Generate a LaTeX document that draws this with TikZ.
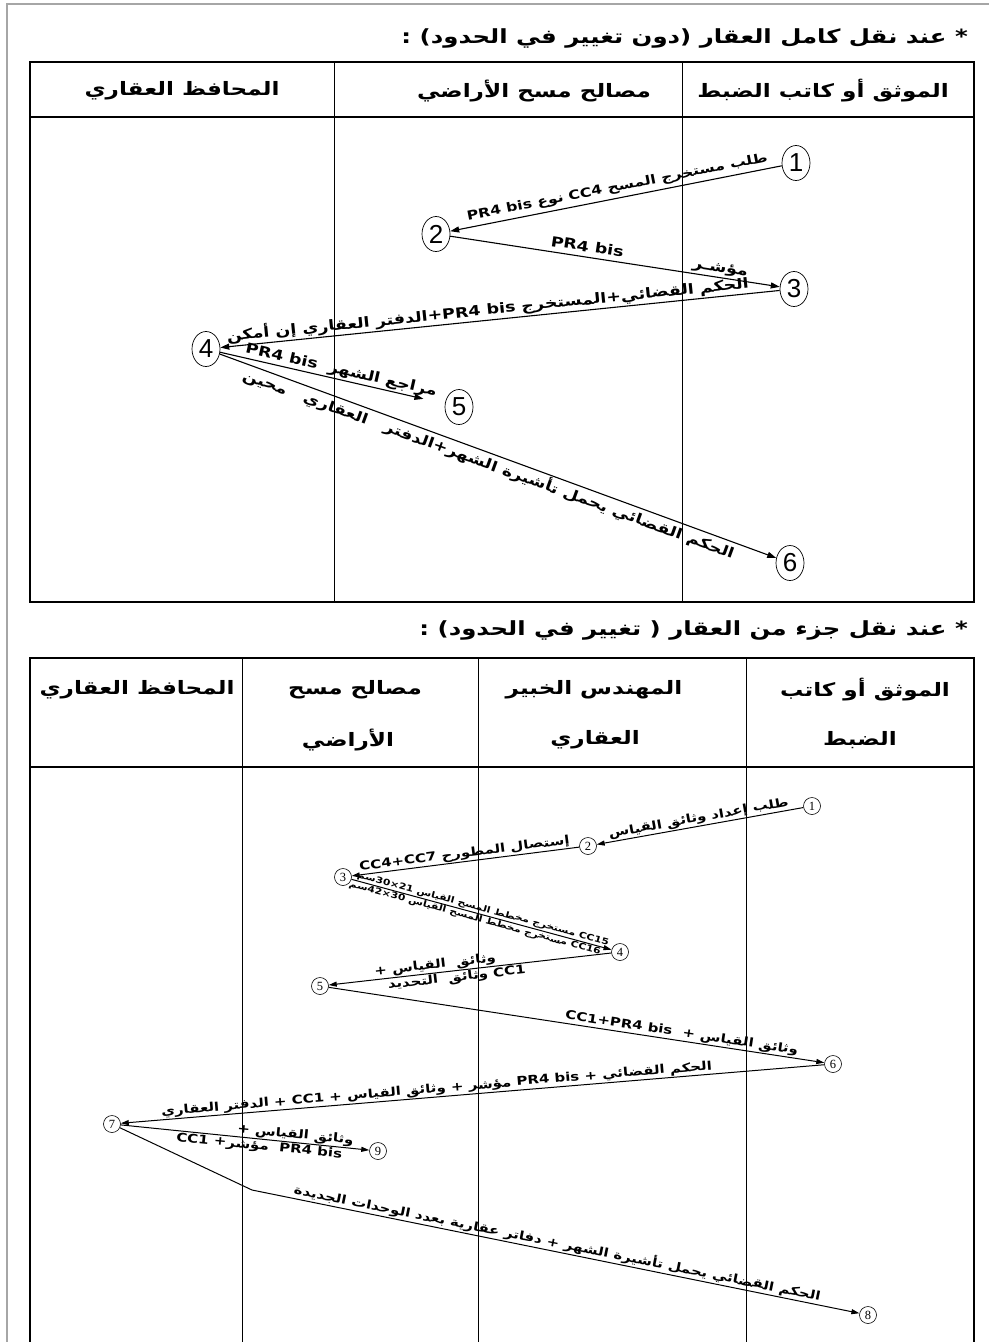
\documentclass[tikz,border=0pt]{standalone}
\usepackage{fontspec}
\usetikzlibrary{shapes.geometric,arrows.meta}
\TeXXeTstate=1
\setmainfont{Liberation Sans}
\newfontfamily\arfont[Script=Arabic,FakeStretch=1.25]{DejaVu Sans}
\newfontfamily\numfont{Liberation Serif}
\newcommand{\AR}[1]{{\arfont\bfseries\beginR #1\endR}}
\newcommand{\LR}[1]{\beginL #1\endL{}}
\tikzset{
 arr/.style={-{Triangle[length=9pt,width=6pt]}, line width=1.1pt},
 arrs/.style={-{Triangle[length=8pt,width=5pt]}, line width=1pt},
 bigc/.style={ellipse, draw, line width=0.7pt, minimum width=28pt, minimum height=35pt, inner sep=0pt, font=\fontsize{26}{26}\selectfont},
 smc/.style={circle, draw, line width=0.6pt, minimum size=17pt, inner sep=0pt, font=\numfont\fontsize{12.5}{12.5}\selectfont},
 lab/.style={font=\fontsize{14}{14}\selectfont, inner sep=1.5pt},
 labs/.style={font=\fontsize{12}{12}\selectfont, inner sep=1pt},
 labxs/.style={font=\fontsize{8.6}{8.6}\selectfont, inner sep=0.8pt},
 hdr/.style={font=\fontsize{18.5}{18.5}\selectfont, inner sep=0pt},
 ttl/.style={font=\fontsize{19.5}{19.5}\selectfont, inner sep=0pt},
 frame/.style={line width=1.6pt},
 col/.style={line width=0.8pt},
}
\begin{document}
\begin{tikzpicture}[x=1pt,y=-1pt]
\useasboundingbox (0,0) rectangle (989,1342);
\fill[white] (0,0) rectangle (989,1342);
% outer frame
\draw[gray!70, line width=1.4pt] (7,1342) -- (7,4) -- (989,4);
% titles
\node[ttl, anchor=east] (t1) at (968,38) {\AR{* عند نقل كامل العقار (دون تغيير في الحدود) :}};
\node[ttl, anchor=east] (t2) at (968,630) {\AR{* عند نقل جزء من العقار ( تغيير في الحدود) :}};
% table 1
\draw[frame] (30,62) rectangle (974,602);
\draw[line width=1.3pt] (30,117) -- (974,117);
\draw[col] (334,62) -- (334,602);
\draw[col] (682,62) -- (682,602);
\node[hdr] (h11) at (182,91) {\AR{المحافظ العقاري}};
\node[hdr] (h12) at (534,91) {\AR{مصالح مسح الأراضي}};
\node[hdr] (h13) at (823,91) {\AR{الموثق أو كاتب الضبط}};
% table 2
\draw[frame] (30,1342) -- (30,658) -- (974,658) -- (974,1342);
\draw[line width=1.3pt] (30,767) -- (974,767);
\draw[col] (242,658) -- (242,1342);
\draw[col] (478,658) -- (478,1342);
\draw[col] (746,658) -- (746,1342);
\node[hdr] (h21) at (137,690) {\AR{المحافظ العقاري}};
\node[hdr] (h22) at (355,690) {\AR{مصالح مسح}};
\node[hdr] (h22b) at (348,740) {\AR{الأراضي}};
\node[hdr] (h23) at (594,690) {\AR{المهندس الخبير}};
\node[hdr] (h23b) at (595,740) {\AR{العقاري}};
\node[hdr] (h24) at (865,690) {\AR{الموثق أو كاتب}};
\node[hdr] (h24b) at (860,740) {\AR{الضبط}};
% diagram 1
\node[bigc] (p1) at (796,163) {1};
\node[bigc] (p2) at (436,234) {2};
\node[bigc] (p3) at (794,289) {3};
\node[bigc] (p4) at (206,349) {4};
\node[bigc] (p5) at (459,407) {5};
\node[bigc] (p6) at (790,563) {6};
\draw[arr] (p1) -- node[lab, above=2pt, sloped, pos=0.49, font=\fontsize{12.6}{12.6}\selectfont] {\AR{طلب مستخرج المسح CC4 نوع \LR{PR4 bis}}} (p2);
\draw[arr] (p2) -- node[lab, above, sloped, pos=0.6] {\AR{مؤشـر\hspace{5em}\LR{PR4 bis}}} (p3);
\draw[arr] (p3) -- node[lab, above, sloped, pos=0.52] {\AR{الحكم القضائي+المستخرج \LR{PR4 bis}+الدفتر العقاري إن أمكن}} (p4);
\draw[arr, shorten >=22pt] (p4) -- node[lab, above, sloped, pos=0.53] {\AR{مراجع الشهر\hspace{0.8em}\LR{PR4 bis}}} (p5);
\draw[arr] (p4) -- node[lab, below, sloped, pos=0.49] {\AR{الحكم القضائي يحمل تأشيرة الشهر+الدفتر\ \ \ العقاري\ \ \ محين}} (p6);
% diagram 2
\node[smc] (q1) at (812,806) {1};
\node[smc] (q2) at (588,846) {2};
\node[smc] (q3) at (343,877) {3};
\node[smc] (q4) at (620,952) {4};
\node[smc] (q5) at (320,986) {5};
\node[smc] (q6) at (833,1064) {6};
\node[smc] (q7) at (112,1124) {7};
\node[smc] (q9) at (378,1151) {9};
\node[smc] (q8) at (868,1315) {8};
\coordinate (b78) at (252,1190);
\draw[arrs] (q1) -- node[labs, above, sloped] {\AR{طلب إعداد وثائق القياس}} (q2);
\draw[arrs] (q2) -- node[labs, above, sloped] {\AR{إستصال المطورح CC4+CC7}} (q3);
\draw[arrs] (q3) -- node[labxs, above, sloped, pos=0.5] {\AR{CC15 مستخرج مخطط المسح القياس \LR{21×30}سم}}
                    node[labxs, below, sloped, pos=0.48] {\AR{CC16 مستخرج مخطط المسح القياس \LR{30×42}سم}} (q4);
\draw[arrs] (q4) -- node[labs, above, sloped, pos=0.62] {\AR{وثائق\ \ القياس +}}
                    node[labs, below, sloped, pos=0.55] {\AR{CC1 وثائق\ \ التحديد}} (q5);
\draw[arrs] (q5) -- node[labs, above, sloped, pos=0.71] {\AR{وثائق القياس +\ \ \LR{CC1+PR4 bis}}} (q6);
\draw[arrs] (q6) -- node[labs, above, sloped, pos=0.55] {\AR{الحكم القضائي + \LR{PR4 bis} مؤشر + وثائق القياس + CC1 + الدفتر العقاري}} (q7);
\draw[arrs] (q7) -- node[labs, above, sloped, pos=0.7] {\AR{وثائق القياس +}}
                    node[labs, below, sloped, pos=0.56] {\AR{\LR{PR4 bis}\ \ مؤشر+ CC1}} (q9);
\draw[arrs] (q7) -- (b78) -- node[labs, above, sloped, pos=0.5] {\AR{الحكم القضائي يحمل تأشيرة الشهر + دفاتر عقارية بعدد الوحدات الجديدة}} (q8);
\end{tikzpicture}
\end{document}
